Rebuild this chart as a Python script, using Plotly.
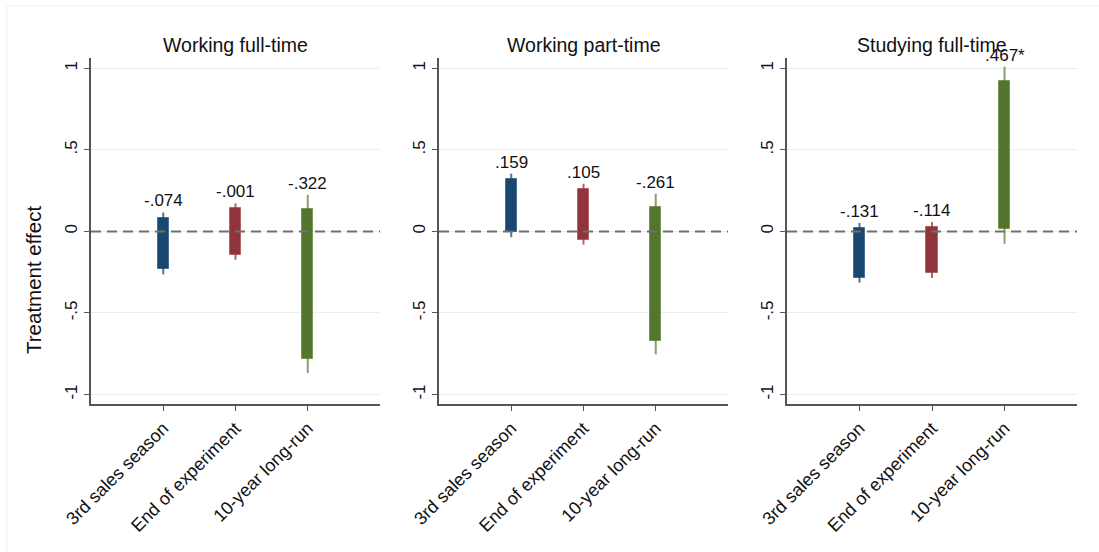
import plotly.graph_objects as go

# Outcomes shown in the three panels
panels = ["Working full-time", "Working part-time", "Studying full-time"]
periods = ["3rd sales season", "End of experiment", "10-year long-run"]

# Point estimates per panel (order follows `periods`)
est_fulltime = [-0.074, -0.001, -0.322]
est_parttime = [0.159, 0.105, -0.261]
est_study = [-0.131, -0.114, 0.467]

# Half-widths of the 90% confidence intervals (thick bars)
ci90_fulltime = [0.158, 0.145, 0.458]
ci90_parttime = [0.163, 0.155, 0.412]
ci90_study = [0.153, 0.143, 0.455]

# Half-widths of the 95% confidence intervals (thin spikes)
ci95_fulltime = [0.190, 0.173, 0.546]
ci95_parttime = [0.195, 0.186, 0.492]
ci95_study = [0.183, 0.171, 0.543]

# Significance stars
stars_fulltime = ["", "", ""]
stars_parttime = ["", "", ""]
stars_study = ["", "", "*"]

y_ticks = [-1, -0.5, 0, 0.5, 1]
y_tick_text = ["-1", "-.5", "0", ".5", "1"]

period_colors = ["rgb(26,71,111)", "rgb(144,53,59)", "rgb(85,117,47)"]
spike_colors = ["rgba(26,71,111,0.75)", "rgba(144,53,59,0.75)", "rgba(85,117,47,0.7)"]
edge_colors = ["rgb(70,110,150)", "rgb(180,100,105)", "rgb(120,150,85)"]

FONT = "Liberation Sans, Arial, sans-serif"
W, H = 1099, 552


def fmt(v, star):
    s = f"{v:.3f}"
    s = s.replace("0.", ".", 1)
    return s + star


panel_data = [
    (est_fulltime, ci90_fulltime, ci95_fulltime, stars_fulltime),
    (est_parttime, ci90_parttime, ci95_parttime, stars_parttime),
    (est_study, ci90_study, ci95_study, stars_study),
]

# Plot-area boundaries in pixels
x_px = [(91, 380), (439, 728), (787, 1077)]
y_px = (58, 404)

fig = go.Figure()
annotations = []
shapes = []
xpos = [1, 2, 3]

for p, (est, h90, h95, stars) in enumerate(panel_data):
    sfx = "" if p == 0 else str(p + 1)
    xa, ya = "x" + sfx, "y" + sfx
    for i in range(3):
        lo95 = est[i] - h95[i]
        hi95 = est[i] + h95[i]
        lo90 = est[i] - h90[i]
        hi90 = est[i] + h90[i]
        # 95% spike
        fig.add_trace(go.Scatter(
            x=[xpos[i], xpos[i]], y=[lo95, hi95], mode="lines",
            line=dict(color=spike_colors[i], width=2),
            xaxis=xa, yaxis=ya, showlegend=False, hoverinfo="skip"))
        # 90% bar
        fig.add_trace(go.Bar(
            x=[xpos[i]], y=[hi90 - lo90], base=[lo90], width=0.155,
            marker=dict(color=period_colors[i],
                        line=dict(color=edge_colors[i], width=1)),
            xaxis=xa, yaxis=ya, showlegend=False))
        annotations.append(dict(
            x=xpos[i], y=hi95, xref=xa, yref=ya, text=fmt(est[i], stars[i]),
            showarrow=False, yanchor="bottom", xanchor="center", yshift=0,
            font=dict(family=FONT, size=17, color="#111")))
    # dashed zero reference
    shapes.append(dict(type="line", xref=xa + " domain", yref=ya,
                       x0=0, x1=1, y0=0, y1=0,
                       line=dict(color="#6f6f6f", width=2, dash="10px,6px"),
                       layer="above"))
    x0, x1 = x_px[p]
    dom = [x0 / W, x1 / W]
    fig.layout["xaxis" + sfx] = dict(
        domain=dom, anchor=ya, range=[0, 4], automargin=False,
        tickmode="array", tickvals=xpos, ticktext=periods, tickangle=-45,
        ticks="outside", ticklen=5, tickwidth=1.2, tickcolor="#555",
        showline=True, linecolor="#555", linewidth=1.5,
        showgrid=False, zeroline=False,
        tickfont=dict(family=FONT, size=18, color="#111"))
    fig.layout["yaxis" + sfx] = dict(
        domain=[1 - y_px[1] / H, 1 - y_px[0] / H], anchor=xa,
        range=[-1.058, 1.063], automargin=False,
        tickmode="array", tickvals=y_ticks, ticktext=y_tick_text, tickangle=-90,
        ticks="outside", ticklen=5, tickwidth=1.2, tickcolor="#555",
        showline=True, linecolor="#555", linewidth=1.5,
        showgrid=True, gridcolor="#e6eff1", gridwidth=1, zeroline=False,
        tickfont=dict(family=FONT, size=17, color="#111"))
    annotations.append(dict(
        x=(x0 + x1) / 2 / W, y=1 - 45 / H, xref="paper", yref="paper",
        text=panels[p], showarrow=False, xanchor="center", yanchor="middle",
        font=dict(family=FONT, size=19.5, color="#111")))

annotations.append(dict(
    x=33 / W, y=1 - 280 / H, xref="paper", yref="paper",
    text="Treatment effect", textangle=-90, showarrow=False,
    xanchor="center", yanchor="middle",
    font=dict(family=FONT, size=20.5, color="#111")))

# faint frame around the graph region
shapes.append(dict(type="line", xref="paper", yref="paper",
                   x0=7 / W, x1=1, y0=1 - 6 / H, y1=1 - 6 / H,
                   line=dict(color="#f0f0f0", width=1)))
shapes.append(dict(type="line", xref="paper", yref="paper",
                   x0=7 / W, x1=7 / W, y0=0, y1=1 - 6 / H,
                   line=dict(color="#f0f0f0", width=1)))

fig.update_layout(
    width=W, height=H, margin=dict(l=0, r=0, t=0, b=0),
    paper_bgcolor="white", plot_bgcolor="white",
    annotations=annotations, shapes=shapes, bargap=0,
    font=dict(family=FONT))

fig.write_html("out.html")
